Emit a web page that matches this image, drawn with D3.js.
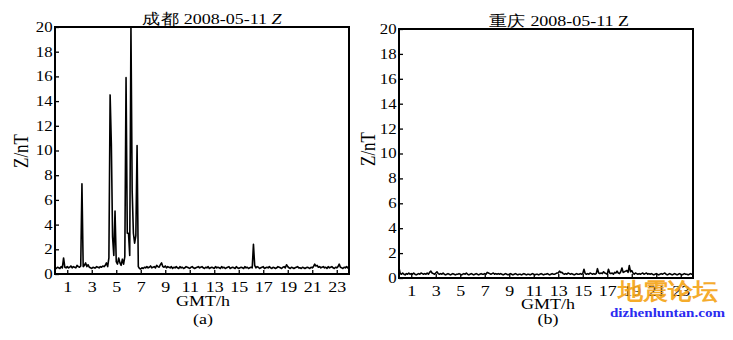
<!DOCTYPE html>
<html><head><meta charset="utf-8">
<script src="https://cdn.jsdelivr.net/npm/d3@7"></script>
<style>
body{margin:0;background:#fff}
svg{display:block}
text{font-family:"Liberation Serif","Times New Roman",serif;fill:#000}
</style>
</head><body>
<svg id="c" width="733" height="340"></svg>
<script>
// ---- data ----
const sampleStepH = 0.1;           // hours between samples
const xTickValues = [1,3,5,7,9,11,13,15,17,19,21,23];
const yTickValues = [0,2,4,6,8,10,12,14,16,18,20];
const xDomain = [0,24];
const yDomain = [0,20];

const panelTitles = ["成都 2008-05-11 ", "重庆 2008-05-11 "];
const panelLetters = ["(a)", "(b)"];
const xLabel = "GMT/h";
const yLabel = "Z/nT";

// Chengdu Z (nT), one value every 0.1 h from 0 to 24
const chengduZ = [
0.5,0.45,0.55,0.5,0.45,0.6,0.5,1.3,0.55,0.5,
0.6,0.5,0.55,0.65,0.5,0.6,0.55,0.5,0.7,0.6,
0.55,0.65,7.3,0.6,0.7,0.9,0.6,0.75,0.55,0.5,
0.45,0.55,0.5,0.5,0.6,0.55,0.5,0.6,0.55,0.65,
0.6,0.7,0.9,0.6,1.3,14.5,10.5,3.0,1.5,5.1,
1.0,0.8,1.3,0.9,0.7,1.2,0.8,1.4,15.9,3.3,
3.3,1.5,20,6.7,3.3,2.5,3.1,10.4,0.6,0.45,
0.4,0.5,0.45,0.55,0.5,0.6,0.5,0.55,0.65,0.5,
0.55,0.6,0.5,0.7,0.6,0.55,0.75,0.9,0.6,0.55,
0.65,0.5,0.6,0.55,0.5,0.6,0.45,0.55,0.5,0.6,
0.5,0.45,0.6,0.5,0.55,0.45,0.5,0.6,0.55,0.5,
0.45,0.55,0.6,0.5,0.45,0.5,0.55,0.6,0.5,0.55,
0.6,0.5,0.45,0.55,0.5,0.6,0.45,0.5,0.55,0.5,
0.45,0.6,0.5,0.55,0.5,0.45,0.6,0.5,0.55,0.45,
0.5,0.55,0.6,0.45,0.5,0.55,0.5,0.45,0.6,0.5,
0.45,0.5,0.55,0.5,0.45,0.6,0.5,0.55,0.45,0.5,
0.55,0.5,2.4,0.7,0.5,0.6,0.55,0.45,0.5,0.55,
0.6,0.45,0.5,0.55,0.5,0.6,0.5,0.45,0.55,0.5,
0.45,0.5,0.6,0.55,0.5,0.45,0.55,0.6,0.5,0.75,
0.6,0.5,0.45,0.55,0.5,0.45,0.5,0.55,0.6,0.5,
0.5,0.45,0.55,0.5,0.45,0.5,0.55,0.5,0.45,0.55,
0.5,0.6,0.8,0.65,0.7,0.55,0.6,0.5,0.55,0.6,
0.5,0.55,0.45,0.6,0.5,0.55,0.6,0.5,0.45,0.55,
0.5,0.6,0.8,0.55,0.5,0.45,0.55,0.5,0.6,0.5,
0.55];

// Chongqing Z (nT), one value every 0.1 h from 0 to 24
const chongqingZ = [
0.8,0.35,0.3,0.4,0.3,0.25,0.35,0.3,0.4,0.3,
0.35,0.3,0.4,0.3,0.25,0.3,0.35,0.3,0.4,0.35,
0.3,0.35,0.3,0.4,0.3,0.45,0.55,0.4,0.35,0.3,
0.4,0.5,0.35,0.3,0.35,0.3,0.4,0.3,0.25,0.3,
0.35,0.3,0.25,0.3,0.35,0.3,0.25,0.3,0.3,0.35,
0.3,0.25,0.3,0.35,0.3,0.4,0.3,0.25,0.3,0.35,
0.3,0.25,0.3,0.35,0.3,0.25,0.3,0.35,0.3,0.3,
0.35,0.3,0.45,0.4,0.35,0.3,0.35,0.4,0.3,0.35,
0.3,0.35,0.3,0.35,0.3,0.25,0.3,0.35,0.3,0.25,
0.3,0.35,0.3,0.25,0.3,0.35,0.3,0.25,0.3,0.3,
0.25,0.3,0.35,0.3,0.25,0.3,0.3,0.25,0.3,0.35,
0.3,0.25,0.3,0.3,0.25,0.3,0.35,0.3,0.25,0.3,
0.3,0.35,0.3,0.25,0.3,0.35,0.3,0.3,0.35,0.4,
0.4,0.55,0.45,0.45,0.35,0.3,0.35,0.3,0.4,0.35,
0.3,0.35,0.3,0.25,0.3,0.35,0.3,0.3,0.35,0.3,
0.35,0.7,0.35,0.3,0.35,0.3,0.4,0.35,0.3,0.35,
0.3,0.35,0.75,0.4,0.35,0.4,0.35,0.5,0.4,0.35,
0.3,0.7,0.4,0.35,0.4,0.3,0.45,0.4,0.55,0.4,
0.35,0.5,0.8,0.45,0.5,0.55,0.6,0.45,1.0,0.5,
0.6,0.4,0.3,0.4,0.35,0.3,0.35,0.3,0.35,0.4,
0.3,0.35,0.4,0.3,0.35,0.3,0.35,0.3,0.25,0.3,
0.35,0.3,0.25,0.3,0.35,0.3,0.35,0.4,0.3,0.25,
0.3,0.35,0.3,0.25,0.3,0.35,0.3,0.25,0.3,0.35,
0.3,0.25,0.3,0.35,0.3,0.3,0.25,0.3,0.35,0.3,
0.3];

// ---- layout ----
const SX = 1.2; // horizontal stretch of the original image's text
const panels = [
  {series: chengduZ,   left:55,  right:349, top:27, bottom:274, title:panelTitles[0], italicZ:true,
   titleX:212, titleY:24, yLabX:21, yLabY:151, xLabX:203, xLabY:306, letterY:324},
  {series: chongqingZ, left:399, right:693, top:29, bottom:278, title:panelTitles[1], italicZ:false,
   titleX:559, titleY:26, yLabX:368, yLabY:149, xLabX:548, xLabY:309, letterY:324}
];

const svg = d3.select("#c");

function stretchedText(g, x, y, size, anchor){
  return g.append("g").attr("transform",`translate(${x},${y}) scale(${SX},1)`)
    .append("text").attr("text-anchor",anchor||"middle").attr("font-size",size);
}

panels.forEach((p,k)=>{
  const x = d3.scaleLinear().domain(xDomain).range([p.left,p.right]);
  const y = d3.scaleLinear().domain(yDomain).range([p.bottom,p.top]);
  const g = svg.append("g");

  // data line
  const line = d3.line().x((d,i)=>x(i*sampleStepH)).y(d=>y(d));
  g.append("path").datum(p.series).attr("d",line)
    .attr("fill","none").attr("stroke","#000").attr("stroke-width",1.6).attr("stroke-linejoin","round");

  // axes
  const ya = g.append("g").attr("transform",`translate(${p.left},0)`)
    .call(d3.axisLeft(y).tickValues(yTickValues).tickSize(-4).tickSizeOuter(0).tickPadding(2));
  const xa = g.append("g").attr("transform",`translate(0,${p.bottom})`)
    .call(d3.axisBottom(x).tickValues(xTickValues).tickSize(-4).tickSizeOuter(0).tickPadding(7));
  [ya,xa].forEach(a=>{
    a.select(".domain").remove();
    a.selectAll(".tick line").attr("stroke","#000").attr("stroke-width",1.3);
    a.selectAll(".tick text").attr("font-family",'"Liberation Serif",serif').attr("fill","#000")
      .attr("transform",`scale(${SX},1)`);
  });
  ya.selectAll(".tick text").attr("font-size",14);
  xa.selectAll(".tick text").attr("font-size",15);

  // frame
  g.append("rect").attr("x",p.left).attr("y",p.top)
    .attr("width",p.right-p.left).attr("height",p.bottom-p.top)
    .attr("fill","none").attr("stroke","#000").attr("stroke-width",2);

  // title
  const t = stretchedText(g,p.titleX,p.titleY,15);
  t.append("tspan").text(p.title);
  t.append("tspan").attr("font-style",p.italicZ?"italic":"normal").text("Z");

  // y label
  g.append("g").attr("transform",`translate(${p.yLabX},${p.yLabY}) scale(${SX},1) rotate(-90)`)
    .append("text").attr("text-anchor","middle").attr("dy","0.35em").attr("font-size",17).text(yLabel);

  // x label and panel letter
  stretchedText(g,p.xLabX,p.xLabY,15).text(xLabel);
  stretchedText(g,p.xLabX,p.letterY,15).text(panelLetters[k]);
});

// watermark
svg.append("text").attr("x",668).attr("y",299).attr("text-anchor","middle")
  .attr("font-family",'"Noto Sans CJK SC",sans-serif').attr("font-weight","bold")
  .attr("font-size",23).attr("textLength",100).attr("lengthAdjust","spacingAndGlyphs")
  .style("fill","#f5a51a").attr("opacity",0.92).text("地震论坛");
svg.append("text").attr("x",610).attr("y",317)
  .attr("font-family",'"Liberation Sans",Arial,sans-serif').attr("font-weight","bold")
  .attr("font-size",13).attr("textLength",115).attr("lengthAdjust","spacingAndGlyphs")
  .style("fill","#2b2bf0").text("dizhenluntan.com");
</script>
</body></html>
